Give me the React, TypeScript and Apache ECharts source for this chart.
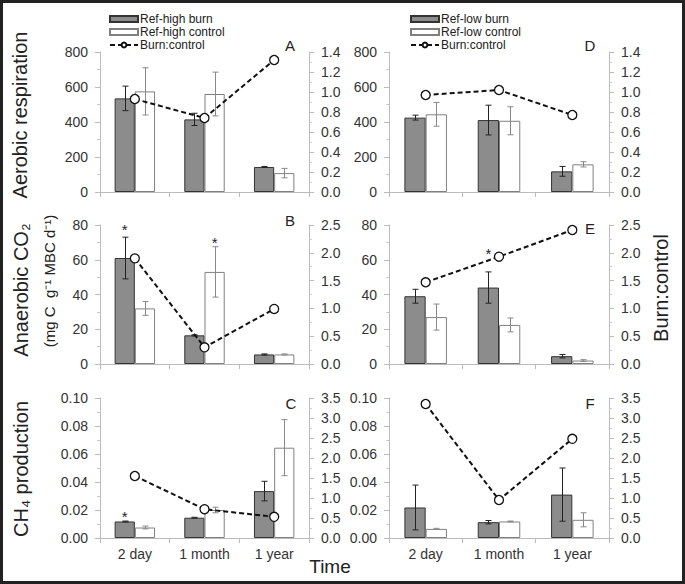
import { useEffect, useRef } from 'react';
import * as echarts from 'echarts';

const categories = ['2 day', '1 month', '1 year'];

// Aerobic respiration
const aerHighBurn = [535, 415, 143];
const aerHighBurnErr = [70, 35, 3];
const aerHighCtrl = [575, 560, 108];
const aerHighCtrlErr = [135, 125, 27];
const aerHighRatio = [0.93, 0.74, 1.32];
const aerLowBurn = [425, 411, 118];
const aerLowBurnErr = [14, 85, 28];
const aerLowCtrl = [444, 407, 158];
const aerLowCtrlErr = [68, 80, 15];
const aerLowRatio = [0.97, 1.02, 0.77];

// Anaerobic CO2
const anHighBurn = [61, 16.5, 5.5];
const anHighBurnErr = [12, 0.3, 0.3];
const anHighCtrl = [32, 53, 5.5];
const anHighCtrlErr = [4, 14.5, 0.3];
const anHighRatio = [1.9, 0.3, 0.99];
const anLowBurn = [39, 44, 4.5];
const anLowBurnErr = [4, 9, 1];
const anLowCtrl = [27, 22.5, 2];
const anLowCtrlErr = [7.5, 4, 0.5];
const anLowRatio = [1.47, 1.93, 2.41];

// CH4 production
const chHighBurn = [0.0118, 0.0145, 0.0335];
const chHighBurnErr = [0.0003, 0.0003, 0.007];
const chHighCtrl = [0.0075, 0.02, 0.0645];
const chHighCtrlErr = [0.001, 0.002, 0.02];
const chHighRatio = [1.55, 0.72, 0.53];
const chLowBurn = [0.0218, 0.0113, 0.031];
const chLowBurnErr = [0.016, 0.0012, 0.019];
const chLowCtrl = [0.0065, 0.0118, 0.013];
const chLowCtrlErr = [0.0004, 0.0003, 0.005];
const chLowRatio = [3.35, 0.95, 2.48];

// significance stars: [categoryIndex, value, side(0 burn,1 control)]
const starsA: number[][] = [];
const starsD: number[][] = [];
const starsB = [[0, 80, 0], [1, 72.5, 1]];
const starsE = [[1, 66, 0]];
const starsC = [[0, 0.018, 0]];
const starsF: number[][] = [];

// axis ticks per row
const leftMax = [800, 80, 0.1];
const leftInterval = [200, 20, 0.02];
const leftDecimals = [0, 0, 2];
const rightMax = [1.4, 2.5, 3.5];
const rightInterval = [0.2, 0.5, 0.5];

const FONT = '"Liberation Sans", Arial, Helvetica, sans-serif';
const CAT_GAP = 0.42;

const panels = [
  { row: 0, col: 0, letter: 'A', burn: aerHighBurn, burnErr: aerHighBurnErr, ctrl: aerHighCtrl, ctrlErr: aerHighCtrlErr, ratio: aerHighRatio, stars: starsA, burnName: 'Ref-high burn', ctrlName: 'Ref-high control' },
  { row: 0, col: 1, letter: 'D', burn: aerLowBurn, burnErr: aerLowBurnErr, ctrl: aerLowCtrl, ctrlErr: aerLowCtrlErr, ratio: aerLowRatio, stars: starsD, burnName: 'Ref-low burn', ctrlName: 'Ref-low control' },
  { row: 1, col: 0, letter: 'B', burn: anHighBurn, burnErr: anHighBurnErr, ctrl: anHighCtrl, ctrlErr: anHighCtrlErr, ratio: anHighRatio, stars: starsB, burnName: 'Ref-high burn', ctrlName: 'Ref-high control' },
  { row: 1, col: 1, letter: 'E', burn: anLowBurn, burnErr: anLowBurnErr, ctrl: anLowCtrl, ctrlErr: anLowCtrlErr, ratio: anLowRatio, stars: starsE, burnName: 'Ref-low burn', ctrlName: 'Ref-low control' },
  { row: 2, col: 0, letter: 'C', burn: chHighBurn, burnErr: chHighBurnErr, ctrl: chHighCtrl, ctrlErr: chHighCtrlErr, ratio: chHighRatio, stars: starsC, burnName: 'Ref-high burn', ctrlName: 'Ref-high control' },
  { row: 2, col: 1, letter: 'F', burn: chLowBurn, burnErr: chLowBurnErr, ctrl: chLowCtrl, ctrlErr: chLowCtrlErr, ratio: chLowRatio, stars: starsF, burnName: 'Ref-low burn', ctrlName: 'Ref-low control' },
];

const gridLeft = [100, 389];
const gridWidth = [209, 220];
const gridTop = [52, 225, 398];
const gridHeight = [140, 139, 140];
const letterPos = [[290, 45], [590, 45], [290, 220], [590, 228], [291, 403], [590, 403]];

function errRender(side: number, color: string) {
  return (params: any, api: any) => {
    const idx = api.value(0);
    const mean = api.value(1);
    const err = api.value(2);
    const band = api.size([1, 0])[0];
    const bw = (band * (1 - CAT_GAP)) / 2;
    const c = api.coord([idx, mean]);
    const x = Math.round(c[0] + (side === 0 ? -bw / 2 : bw / 2)) + 0.5;
    const yTop = api.coord([idx, mean + err])[1];
    const yBot = api.coord([idx, mean - err])[1];
    const cap = 3;
    const style = { stroke: color, lineWidth: 1 };
    return {
      type: 'group',
      children: [
        { type: 'line', shape: { x1: x, y1: yTop, x2: x, y2: yBot }, style },
        { type: 'line', shape: { x1: x - cap, y1: yTop, x2: x + cap, y2: yTop }, style },
        { type: 'line', shape: { x1: x - cap, y1: yBot, x2: x + cap, y2: yBot }, style },
      ],
    };
  };
}

function starRender(params: any, api: any) {
  const idx = api.value(0);
  const v = api.value(1);
  const side = api.value(2);
  const band = api.size([1, 0])[0];
  const bw = (band * (1 - CAT_GAP)) / 2;
  const c = api.coord([idx, v]);
  return {
    type: 'text',
    x: c[0] + (side === 0 ? -bw / 2 : bw / 2),
    y: c[1] + 4,
    style: { text: '*', fontSize: 15, fontFamily: FONT, fill: '#222', align: 'center', verticalAlign: 'middle' },
  };
}

export default function App() {
  const ref = useRef<HTMLDivElement>(null);
  useEffect(() => {
    if (!ref.current) return;
    const chart = echarts.init(ref.current, null, { renderer: 'svg' });

    const grid: any[] = [];
    const xAxis: any[] = [];
    const yAxis: any[] = [];
    const series: any[] = [];

    panels.forEach((p, g) => {
      grid.push({ left: gridLeft[p.col], width: gridWidth[p.col], top: gridTop[p.row], height: gridHeight[p.row] });
      xAxis.push({
        type: 'category', gridIndex: g, data: categories,
        axisLine: { show: true, lineStyle: { color: '#bbb', width: 1 } },
        axisTick: { show: true, length: 5, lineStyle: { color: '#bbb' } },
        axisLabel: { show: p.row === 2, fontSize: 14, color: '#333', fontFamily: FONT, margin: 9 },
        splitLine: { show: false },
      });
      const dec = leftDecimals[p.row];
      yAxis.push({
        type: 'value', gridIndex: g, position: 'left', min: 0, max: leftMax[p.row], interval: leftInterval[p.row],
        axisLine: { show: true, lineStyle: { color: '#bbb' } },
        axisTick: { show: true, length: 5, lineStyle: { color: '#bbb' } },
        minorTick: { show: true, splitNumber: 2, length: 3, lineStyle: { color: '#ccc' } },
        splitLine: { show: false },
        axisLabel: { formatter: (v: number) => v.toFixed(dec), fontSize: 14, color: '#333', fontFamily: FONT, margin: 12 },
      });
      yAxis.push({
        type: 'value', gridIndex: g, position: 'right', min: 0, max: rightMax[p.row], interval: rightInterval[p.row],
        axisLine: { show: true, lineStyle: { color: '#bbb' } },
        axisTick: { show: true, length: 5, lineStyle: { color: '#bbb' } },
        minorTick: { show: true, splitNumber: 2, length: 3, lineStyle: { color: '#ccc' } },
        splitLine: { show: false },
        axisLabel: { formatter: (v: number) => v.toFixed(1), fontSize: 14, color: '#333', fontFamily: FONT, margin: 12 },
      });
      const yl = 2 * g;
      const yr = 2 * g + 1;
      series.push({
        type: 'bar', name: p.burnName, xAxisIndex: g, yAxisIndex: yl, data: p.burn,
        barGap: '0%', barCategoryGap: `${CAT_GAP * 100}%`,
        itemStyle: { color: '#8c8c8c', borderColor: '#333', borderWidth: 1 }, z: 2,
      });
      series.push({
        type: 'bar', name: p.ctrlName, xAxisIndex: g, yAxisIndex: yl, data: p.ctrl,
        barGap: '0%', barCategoryGap: `${CAT_GAP * 100}%`,
        itemStyle: { color: '#ffffff', borderColor: '#808080', borderWidth: 1 }, z: 2,
      });
      series.push({
        type: 'custom', xAxisIndex: g, yAxisIndex: yl, z: 3,
        renderItem: errRender(0, '#222'),
        data: p.burn.map((v, i) => [i, v, p.burnErr[i]]),
        encode: { x: 0, y: 1 }, silent: true,
      });
      series.push({
        type: 'custom', xAxisIndex: g, yAxisIndex: yl, z: 3,
        renderItem: errRender(1, '#888'),
        data: p.ctrl.map((v, i) => [i, v, p.ctrlErr[i]]),
        encode: { x: 0, y: 1 }, silent: true,
      });
      if (p.stars.length) {
        series.push({
          type: 'custom', xAxisIndex: g, yAxisIndex: yl, z: 3, clip: false,
          renderItem: starRender, data: p.stars, encode: { x: 0, y: 1 }, silent: true,
        });
      }
      series.push({
        type: 'line', name: 'Burn:control', xAxisIndex: g, yAxisIndex: yr, data: p.ratio, z: 5,
        symbol: 'circle', symbolSize: 9,
        lineStyle: { color: '#111', width: 2, type: [5, 3] },
        itemStyle: { color: '#fff', borderColor: '#111', borderWidth: 1.3 },
      });
    });

    const legendCommon = {
      orient: 'vertical', top: 8, itemWidth: 28, itemHeight: 6, itemGap: 1,
      textStyle: { fontSize: 12, lineHeight: 11.5, color: '#222', fontFamily: FONT, padding: [0, 0, 0, -3] },
      selectedMode: false,
    };
    const legendData = (names: string[]) => [
      { name: names[0], icon: 'rect' },
      { name: names[1], icon: 'rect' },
      { name: names[2] },
    ];

    const graphicText = (text: string, x: number, y: number, fontSize: number, rotate = false) => ({
      type: 'text', x, y, rotation: rotate ? Math.PI / 2 : 0, silent: true,
      style: { text, fontSize, fontFamily: FONT, fill: '#222', align: 'center', verticalAlign: 'middle', textAlign: 'center', textVerticalAlign: 'middle' },
    });

    const graphic: any[] = [
      { type: 'rect', silent: true, shape: { x: 1.5, y: 1.5, width: 682, height: 581 }, style: { fill: 'none', stroke: '#222', lineWidth: 3 } },
      graphicText('Aerobic respiration', 20, 115, 20, true),
      graphicText('Anaerobic CO₂', 21, 290, 20, true),
      graphicText('(mg C  g⁻¹ MBC d⁻¹)', 49, 281, 15, true),
      graphicText('CH₄ production', 21, 469, 20, true),
      graphicText('Burn:control', 661, 288, 20, true),
      graphicText('Time', 330, 566, 19),
      ...panels.map((p, i) => graphicText(p.letter, letterPos[i][0], letterPos[i][1], 15)),
    ];

    chart.setOption({
      animation: false,
      backgroundColor: '#fff',
      textStyle: { fontFamily: FONT },
      legend: [
        { ...legendCommon, left: 104, data: legendData(['Ref-high burn', 'Ref-high control', 'Burn:control']) },
        { ...legendCommon, left: 405, data: legendData(['Ref-low burn', 'Ref-low control', 'Burn:control']) },
      ],
      grid, xAxis, yAxis, series, graphic,
    });
    return () => chart.dispose();
  }, []);
  return <div ref={ref} style={{ position: 'fixed', left: 0, top: 0, width: 685, height: 584 }} />;
}
